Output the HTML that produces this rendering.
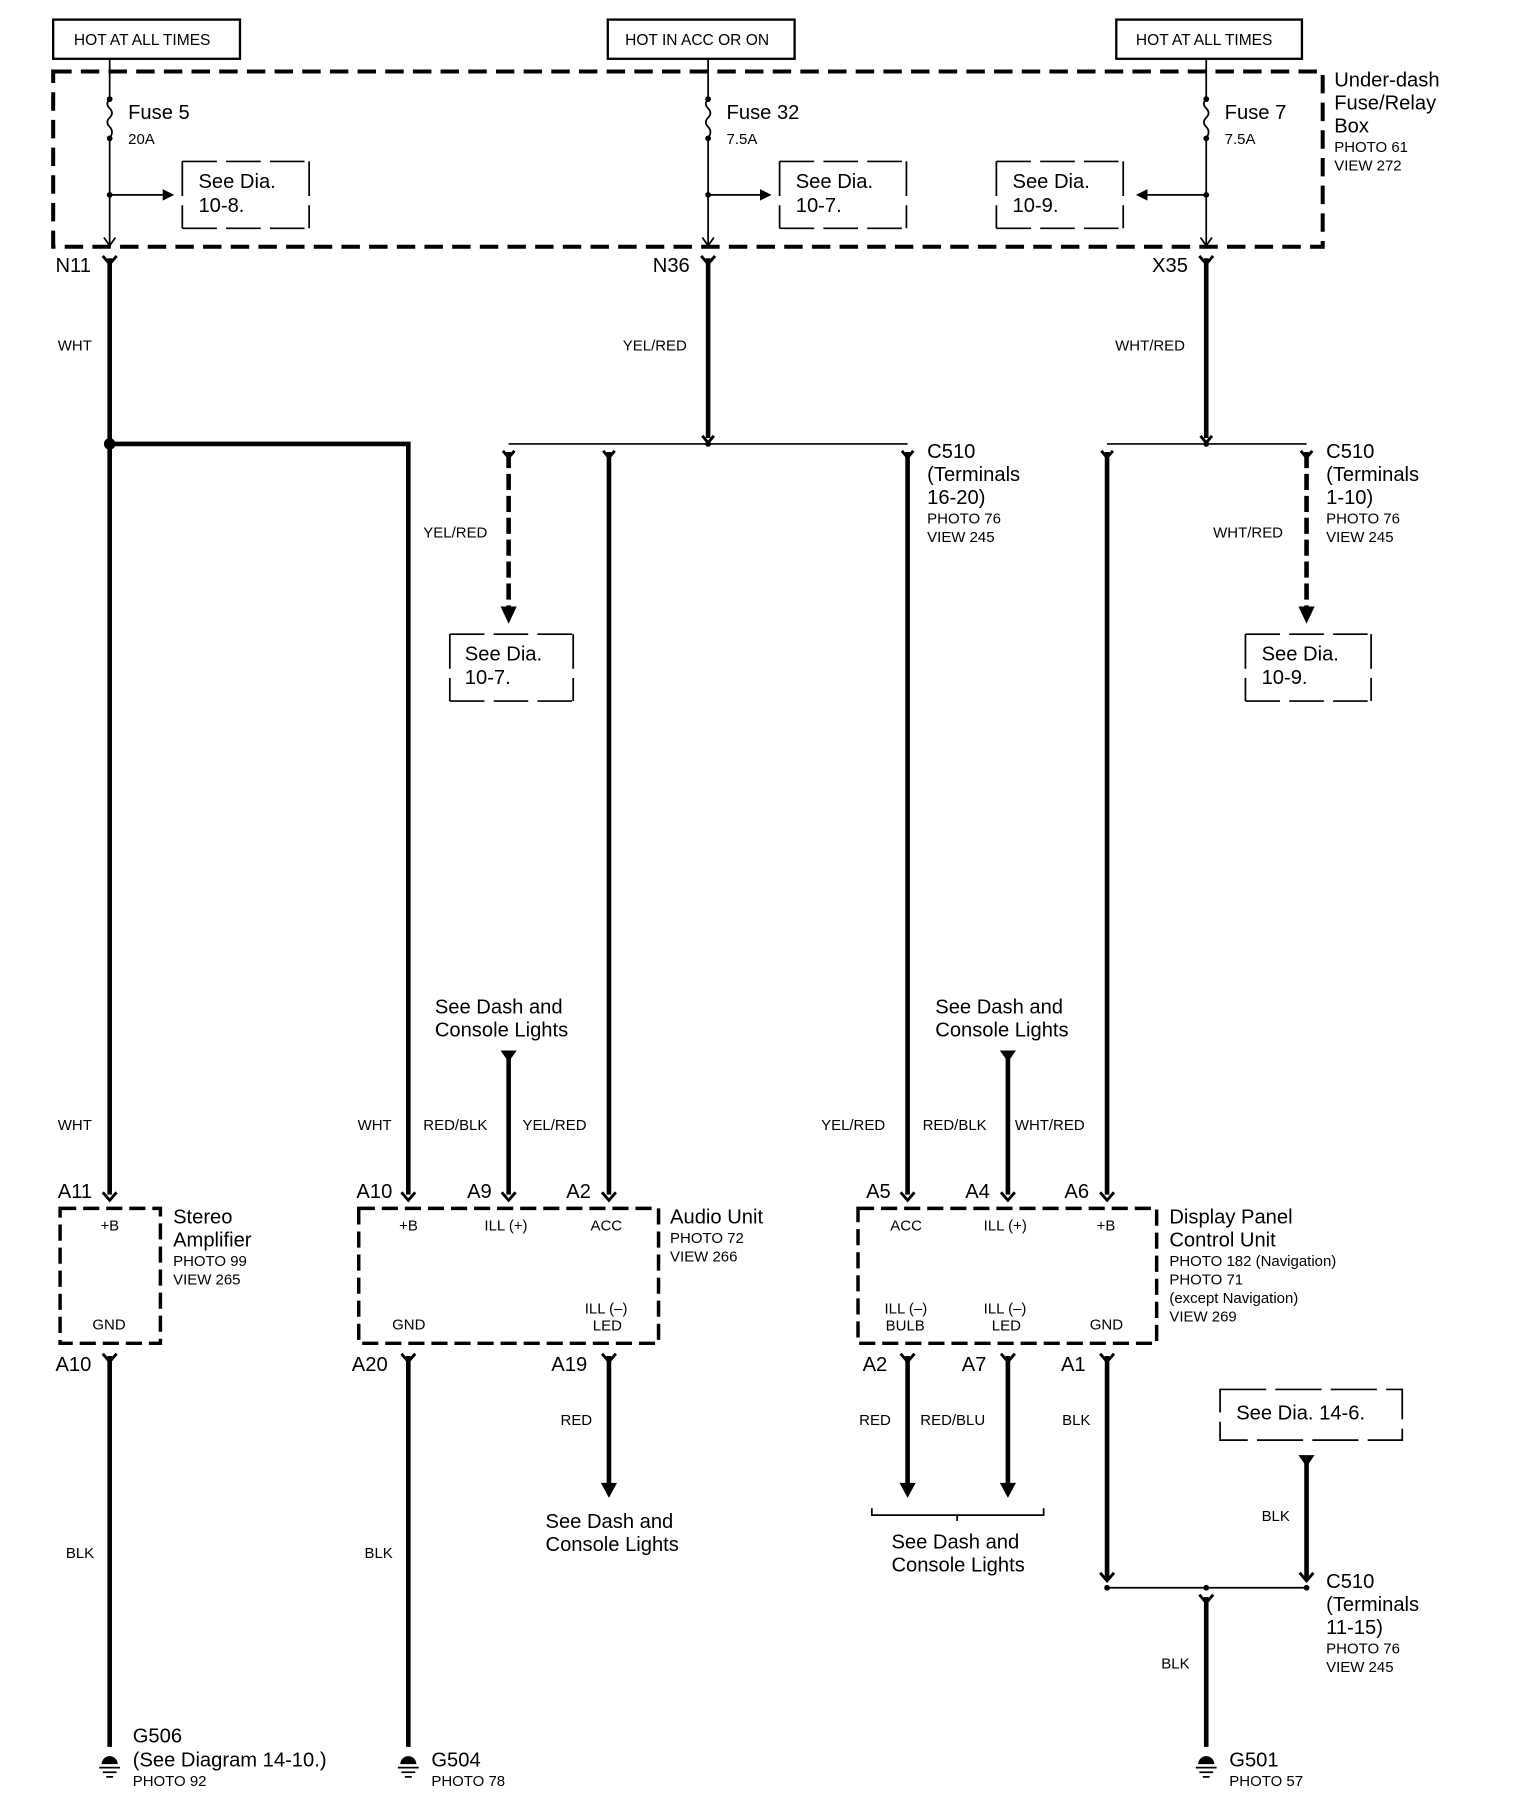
<!DOCTYPE html>
<html><head><meta charset="utf-8"><style>
html,body{margin:0;padding:0;background:#fff}
svg{display:block}
text{font-family:"Liberation Sans",Arial,sans-serif;fill:#000}
.L{font-size:17.5px}.S{font-size:13px}.W{font-size:13.5px}
</style></head><body>
<svg width="1520" height="1808" viewBox="0 0 1318 1568" xmlns="http://www.w3.org/2000/svg">
<defs>
<g id="cy"><path d="M-6,-4 L0,3 L6,-4" fill="none" stroke="#000" stroke-width="2.5"/></g>
<g id="gnd"><path d="M-7,0 A7,7 0 0 1 7,0 Z" fill="#000"/><line x1="-9" y1="3" x2="9" y2="3" stroke="#000" stroke-width="1.5"/><line x1="-6" y1="7" x2="6" y2="7" stroke="#000" stroke-width="1.5"/><line x1="-3" y1="11" x2="3" y2="11" stroke="#000" stroke-width="1.5"/></g>
</defs>
<g stroke="#000" fill="none">
<!-- top boxes -->
<rect x="46" y="17" width="162" height="34" stroke-width="2"/>
<rect x="527" y="17" width="162" height="34" stroke-width="2"/>
<rect x="968" y="17" width="161" height="34" stroke-width="2"/>
<!-- fuse box -->
<rect x="46" y="62" width="1101" height="152" stroke-width="3.5" stroke-dasharray="16 8"/>
<!-- fuse verticals -->
<g stroke-width="1.5">
<path d="M95,51 V86 M95,120 V212 M614,51 V86 M614,120 V212 M1046,51 V86 M1046,120 V212"/>
<path d="M95,86 q-4,4 0,8 q4,4 0,8 q-4,4 0,8 q4,4 0,10"/>
<path d="M614,86 q-4,4 0,8 q4,4 0,8 q-4,4 0,8 q4,4 0,10"/>
<path d="M1046,86 q-4,4 0,8 q4,4 0,8 q-4,4 0,8 q4,4 0,10"/>
<path d="M95,169 H142 M614,169 H660 M1046,169 H994"/>
<path d="M90,206 L95,213 L100,206 M609,206 L614,213 L619,206 M1041,206 L1046,213 L1051,206"/>
</g>
<!-- see dia partial boxes -->
<g stroke-width="1.5">
<path d="M158,140 H268 M158,140 V198 M268,140 V198 M158,198 H268" stroke-dasharray="30 8"/>
<path d="M676,140 H786 M676,140 V198 M786,140 V198 M676,198 H786" stroke-dasharray="30 8"/>
<path d="M864,140 H974 M864,140 V198 M974,140 V198 M864,198 H974" stroke-dasharray="30 8"/>
<path d="M390,550 H497 M390,550 V608 M497,550 V608 M390,608 H497" stroke-dasharray="30 8"/>
<path d="M1080,550 H1189 M1080,550 V608 M1189,550 V608 M1080,608 H1189" stroke-dasharray="30 8"/>
<path d="M1058,1205 H1216 V1249 H1058 Z" stroke-dasharray="40 8"/>
</g>
<!-- thick wires -->
<g stroke-width="4">
<path d="M95,224 V1036 M614,224 V380 M1046,224 V380"/>
<path d="M95,385 H354 V1036"/>
<path d="M528,392 V1036 M787,392 V1036 M960,392 V1036"/>
<path d="M441,392 V528 M1133,392 V528" stroke-dasharray="14 5"/>
<path d="M441,918 V1036 M874,918 V1036"/>
<path d="M95,1176 V1515 M354,1176 V1515 M1046,1385 V1515"/>
<path d="M528,1176 V1288 M787,1176 V1288 M874,1176 V1288"/>
<path d="M960,1176 V1370 M1133,1268 V1370"/>
</g>
<g stroke-width="1.5">
<path d="M441,385 H787 M960,385 H1133 M960,1377 H1133"/>
<path d="M756,1308 v6 H905 v-6 M830,1314 v5"/>
</g>
<!-- connector Ys -->
<g stroke-width="2.5">
<path d="M89,222 L95,229 L101,222 M608,222 L614,229 L620,222 M1040,222 L1046,229 L1052,222"/>
<path d="M609,378 L614,384 L619,378 M1041,378 L1046,384 L1051,378"/>
<path d="M436,391 L441,397 L446,391 M523,391 L528,397 L533,391 M782,391 L787,397 L792,391 M955,391 L960,397 L965,391 M1128,391 L1133,397 L1138,391"/>
<path d="M89,1034 L95,1041 L101,1034 M348,1034 L354,1041 L360,1034 M435,1034 L441,1041 L447,1034 M522,1034 L528,1041 L534,1034 M781,1034 L787,1041 L793,1034 M868,1034 L874,1041 L880,1034 M954,1034 L960,1041 L966,1034"/>
<path d="M89,1174 L95,1181 L101,1174 M348,1174 L354,1181 L360,1174 M522,1174 L528,1181 L534,1174 M781,1174 L787,1181 L793,1174 M868,1174 L874,1181 L880,1174 M954,1174 L960,1181 L966,1174"/>
<path d="M954,1364 L960,1371 L966,1364 M1127,1364 L1133,1371 L1139,1364 M1040,1383 L1046,1390 L1052,1383"/>
</g>
<!-- component boxes -->
<g stroke-width="3" stroke-dasharray="14 6">
<rect x="52" y="1048" width="87" height="117"/>
<rect x="311" y="1048" width="260" height="117"/>
<rect x="744" y="1048" width="259" height="117"/>
</g>
</g>
<!-- filled parts -->
<g fill="#000">
<circle cx="95" cy="385" r="5"/>
<circle cx="614" cy="385" r="2.5"/><circle cx="1046" cy="385" r="2.5"/>
<circle cx="95" cy="169" r="2.5"/><circle cx="614" cy="169" r="2.5"/><circle cx="1046" cy="169" r="2.5"/>
<circle cx="95" cy="86" r="2.5"/><circle cx="95" cy="120" r="2.5"/>
<circle cx="614" cy="86" r="2.5"/><circle cx="614" cy="120" r="2.5"/>
<circle cx="1046" cy="86" r="2.5"/><circle cx="1046" cy="120" r="2.5"/>
<path d="M141,164 L151,169 L141,174Z M659,164 L669,169 L659,174Z M995,164 L985,169 L995,174Z"/>
<path d="M434,526 L448,526 L441,541Z M1126,526 L1140,526 L1133,541Z"/>
<path d="M434,911 L448,911 L441,921Z M867,911 L881,911 L874,921Z"/>
<path d="M521,1286 L535,1286 L528,1299Z M780,1286 L794,1286 L787,1299Z M867,1286 L881,1286 L874,1299Z"/>
<path d="M1126,1262 L1140,1262 L1133,1272Z"/>
<circle cx="960" cy="1377" r="2.5"/><circle cx="1133" cy="1377" r="2.5"/><circle cx="1046" cy="1377" r="2.5"/>
</g>
<use href="#gnd" x="95" y="1530"/><use href="#gnd" x="354" y="1530"/><use href="#gnd" x="1046" y="1530"/>
<!-- text -->
<g class="W">
<text x="64" y="39">HOT AT ALL TIMES</text>
<text x="542" y="39">HOT IN ACC OR ON</text>
<text x="985" y="39">HOT AT ALL TIMES</text>
</g>
<g class="L">
<text x="1157" y="75">Under-dash</text><text x="1157" y="95">Fuse/Relay</text><text x="1157" y="115">Box</text>
<text x="111" y="103">Fuse 5</text><text x="630" y="103">Fuse 32</text><text x="1062" y="103">Fuse 7</text>
<text x="172" y="163">See Dia.</text><text x="172" y="184">10-8.</text>
<text x="690" y="163">See Dia.</text><text x="690" y="184">10-7.</text>
<text x="878" y="163">See Dia.</text><text x="878" y="184">10-9.</text>
<text x="48" y="236">N11</text><text x="566" y="236">N36</text><text x="999" y="236">X35</text>
<text x="804" y="397">C510</text><text x="804" y="417">(Terminals</text><text x="804" y="437">16-20)</text>
<text x="1150" y="397">C510</text><text x="1150" y="417">(Terminals</text><text x="1150" y="437">1-10)</text>
<text x="403" y="573">See Dia.</text><text x="403" y="593">10-7.</text>
<text x="1094" y="573">See Dia.</text><text x="1094" y="593">10-9.</text>
<text x="377" y="879">See Dash and</text><text x="377" y="899">Console Lights</text>
<text x="811" y="879">See Dash and</text><text x="811" y="899">Console Lights</text>
<text x="50" y="1039">A11</text><text x="309" y="1039">A10</text><text x="405" y="1039">A9</text><text x="491" y="1039">A2</text>
<text x="751" y="1039">A5</text><text x="837" y="1039">A4</text><text x="923" y="1039">A6</text>
<text x="150" y="1061">Stereo</text><text x="150" y="1081">Amplifier</text>
<text x="581" y="1061">Audio Unit</text>
<text x="1014" y="1061">Display Panel</text><text x="1014" y="1081">Control Unit</text>
<text x="48" y="1189">A10</text><text x="305" y="1189">A20</text><text x="478" y="1189">A19</text>
<text x="748" y="1189">A2</text><text x="834" y="1189">A7</text><text x="920" y="1189">A1</text>
<text x="1072" y="1231">See Dia. 14-6.</text>
<text x="473" y="1325">See Dash and</text><text x="473" y="1345">Console Lights</text>
<text x="773" y="1343">See Dash and</text><text x="773" y="1363">Console Lights</text>
<text x="1150" y="1377">C510</text><text x="1150" y="1397">(Terminals</text><text x="1150" y="1417">11-15)</text>
<text x="115" y="1511">G506</text><text x="115" y="1532">(See Diagram 14-10.)</text>
<text x="374" y="1532">G504</text><text x="1066" y="1532">G501</text>
</g>
<g class="S">
<text x="1157" y="132">PHOTO 61</text><text x="1157" y="148">VIEW 272</text>
<text x="111" y="125">20A</text><text x="630" y="125">7.5A</text><text x="1062" y="125">7.5A</text>
<text x="804" y="454">PHOTO 76</text><text x="804" y="470">VIEW 245</text>
<text x="1150" y="454">PHOTO 76</text><text x="1150" y="470">VIEW 245</text>
<text x="150" y="1098">PHOTO 99</text><text x="150" y="1114">VIEW 265</text>
<text x="581" y="1078">PHOTO 72</text><text x="581" y="1094">VIEW 266</text>
<text x="1014" y="1098">PHOTO 182 (Navigation)</text><text x="1014" y="1114">PHOTO 71</text>
<text x="1014" y="1130">(except Navigation)</text><text x="1014" y="1146">VIEW 269</text>
<text x="1150" y="1434">PHOTO 76</text><text x="1150" y="1450">VIEW 245</text>
<text x="115" y="1549">PHOTO 92</text><text x="374" y="1549">PHOTO 78</text><text x="1066" y="1549">PHOTO 57</text>
<text x="87" y="1067">+B</text><text x="80" y="1153">GND</text>
<text x="346" y="1067">+B</text><text x="420" y="1067">ILL (+)</text><text x="512" y="1067">ACC</text>
<text x="340" y="1153">GND</text><text x="507" y="1139">ILL (–)</text><text x="514" y="1154">LED</text>
<text x="772" y="1067">ACC</text><text x="853" y="1067">ILL (+)</text><text x="951" y="1067">+B</text>
<text x="767" y="1139">ILL (–)</text><text x="768" y="1154">BULB</text>
<text x="853" y="1139">ILL (–)</text><text x="860" y="1154">LED</text><text x="945" y="1153">GND</text>
<text x="50" y="304">WHT</text><text x="540" y="304">YEL/RED</text><text x="967" y="304">WHT/RED</text>
<text x="367" y="466">YEL/RED</text><text x="1052" y="466">WHT/RED</text>
<text x="50" y="980">WHT</text><text x="310" y="980">WHT</text><text x="367" y="980">RED/BLK</text><text x="453" y="980">YEL/RED</text>
<text x="712" y="980">YEL/RED</text><text x="800" y="980">RED/BLK</text><text x="880" y="980">WHT/RED</text>
<text x="486" y="1236">RED</text><text x="745" y="1236">RED</text><text x="798" y="1236">RED/BLU</text><text x="921" y="1236">BLK</text>
<text x="1094" y="1319">BLK</text>
<text x="57" y="1351">BLK</text><text x="316" y="1351">BLK</text><text x="1007" y="1447">BLK</text>
</g>
</svg>
</body></html>
